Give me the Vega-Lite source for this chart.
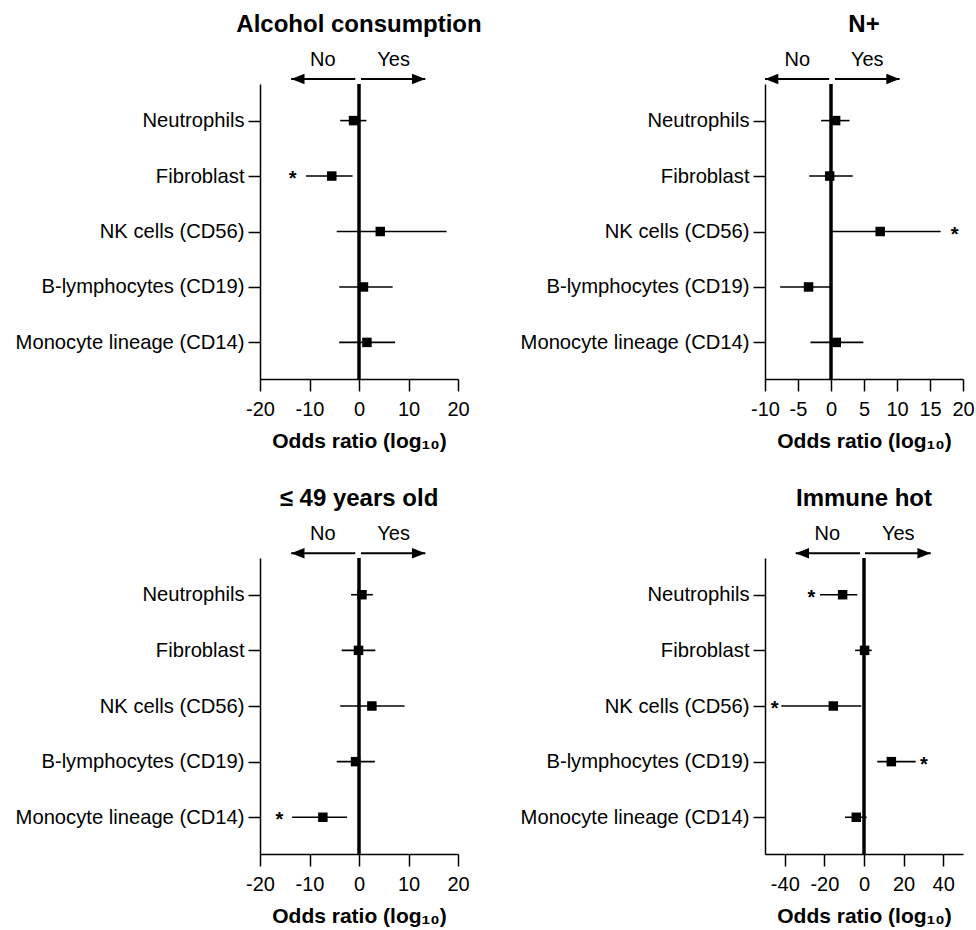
{
  "$schema": "https://vega.github.io/schema/vega-lite/v6.json",
  "padding": {"left": 15, "top": 13, "right": 5, "bottom": 5},
  "background": "white",
  "datasets": {
    "estimates": [
      {"panel": "alcohol", "cell": "Neutrophils", "or": -1.1, "lo": -3.8, "hi": 1.5, "star": null},
      {"panel": "alcohol", "cell": "Fibroblast", "or": -5.5, "lo": -10.7, "hi": -1.3, "star": -13.4},
      {"panel": "alcohol", "cell": "NK cells (CD56)", "or": 4.3, "lo": -4.5, "hi": 17.7, "star": null},
      {"panel": "alcohol", "cell": "B-lymphocytes (CD19)", "or": 0.9, "lo": -4.0, "hi": 6.8, "star": null},
      {"panel": "alcohol", "cell": "Monocyte lineage (CD14)", "or": 1.6, "lo": -4.0, "hi": 7.3, "star": null},
      {"panel": "nplus", "cell": "Neutrophils", "or": 0.7, "lo": -1.5, "hi": 2.8, "star": null},
      {"panel": "nplus", "cell": "Fibroblast", "or": -0.2, "lo": -3.3, "hi": 3.3, "star": null},
      {"panel": "nplus", "cell": "NK cells (CD56)", "or": 7.45, "lo": 0.15, "hi": 16.6, "star": 18.75},
      {"panel": "nplus", "cell": "B-lymphocytes (CD19)", "or": -3.4, "lo": -7.7, "hi": -0.15, "star": null},
      {"panel": "nplus", "cell": "Monocyte lineage (CD14)", "or": 0.8, "lo": -3.1, "hi": 4.9, "star": null},
      {"panel": "age49", "cell": "Neutrophils", "or": 0.6, "lo": -1.6, "hi": 2.8, "star": null},
      {"panel": "age49", "cell": "Fibroblast", "or": -0.1, "lo": -3.5, "hi": 3.3, "star": null},
      {"panel": "age49", "cell": "NK cells (CD56)", "or": 2.6, "lo": -3.8, "hi": 9.2, "star": null},
      {"panel": "age49", "cell": "B-lymphocytes (CD19)", "or": -0.7, "lo": -4.5, "hi": 3.2, "star": null},
      {"panel": "age49", "cell": "Monocyte lineage (CD14)", "or": -7.3, "lo": -13.5, "hi": -2.4, "star": -16.1},
      {"panel": "immune", "cell": "Neutrophils", "or": -10.8, "lo": -22.2, "hi": -3.4, "star": -26.6},
      {"panel": "immune", "cell": "Fibroblast", "or": 0.3, "lo": -4.5, "hi": 3.9, "star": null},
      {"panel": "immune", "cell": "NK cells (CD56)", "or": -15.5, "lo": -41.8, "hi": -1.4, "star": -45.1},
      {"panel": "immune", "cell": "B-lymphocytes (CD19)", "or": 13.8, "lo": 6.7, "hi": 26.1, "star": 30.3},
      {"panel": "immune", "cell": "Monocyte lineage (CD14)", "or": -3.9, "lo": -9.6, "hi": 1.3, "star": null}
    ],
    "arrows": [
      {"panel": "alcohol", "side": "No", "tip": -13.7, "inner": -0.75, "label_x": -7.3},
      {"panel": "alcohol", "side": "Yes", "tip": 13.4, "inner": 0.4, "label_x": 7.0},
      {"panel": "nplus", "side": "No", "tip": -10.0, "inner": -0.27, "label_x": -5.1},
      {"panel": "nplus", "side": "Yes", "tip": 10.4, "inner": 0.6, "label_x": 5.5},
      {"panel": "age49", "side": "No", "tip": -13.7, "inner": -0.75, "label_x": -7.3},
      {"panel": "age49", "side": "Yes", "tip": 13.4, "inner": 0.4, "label_x": 7.0},
      {"panel": "immune", "side": "No", "tip": -34.5, "inner": -2.0, "label_x": -18.5},
      {"panel": "immune", "side": "Yes", "tip": 33.7, "inner": 0.5, "label_x": 17.3}
    ],
    "zero": [{"value": 0}]
  },
  "columns": 2,
  "spacing": {"row": 35, "column": 38},
  "concat": [
    {
      "width": 198, "height": 295,
      "title": {"text": "Alcohol consumption"},
      "layer": [
        {
          "data": {"name": "estimates"},
          "transform": [{"filter": "datum.panel === 'alcohol'"}],
          "layer": [
            {"mark": {"type": "rule", "color": "black", "strokeWidth": 1.6},
             "encoding": {
               "x": {"field": "lo", "type": "quantitative", "scale": {"domain": [-20, 20], "nice": false, "zero": false}, "axis": {"values": [-20, -10, 0, 10, 20]}, "title": "Odds ratio (log₁₀)"},
               "x2": {"field": "hi"},
               "y": {"field": "cell", "type": "nominal", "scale": {"type": "point", "padding": 0.66, "domain": ["Neutrophils", "Fibroblast", "NK cells (CD56)", "B-lymphocytes (CD19)", "Monocyte lineage (CD14)"]}, "title": null}
             }},
            {"mark": {"type": "point", "shape": "square", "filled": true, "color": "black", "opacity": 1, "size": 90, "strokeWidth": 0},
             "encoding": {"x": {"field": "or", "type": "quantitative", "axis": {"values": [-20, -10, 0, 10, 20]}, "title": "Odds ratio (log₁₀)"}, "y": {"field": "cell", "type": "nominal", "title": null}}},
            {"transform": [{"filter": "datum.star != null"}],
             "mark": {"type": "text", "text": "*", "fontSize": 20, "fontWeight": "bold", "color": "black", "dy": 3},
             "encoding": {"x": {"field": "star", "type": "quantitative", "axis": {"values": [-20, -10, 0, 10, 20]}, "title": "Odds ratio (log₁₀)"}, "y": {"field": "cell", "type": "nominal", "title": null}}}
          ]
        },
        {"data": {"name": "zero"}, "mark": {"type": "rule", "color": "black", "strokeWidth": 3.5},
         "encoding": {"x": {"field": "value", "type": "quantitative", "axis": {"values": [-20, -10, 0, 10, 20]}, "title": "Odds ratio (log₁₀)"}}},
        {
          "data": {"name": "arrows"},
          "transform": [{"filter": "datum.panel === 'alcohol'"}],
          "layer": [
            {"mark": {"type": "rule", "color": "black", "strokeWidth": 2, "clip": false},
             "encoding": {"x": {"field": "tip", "type": "quantitative", "axis": {"values": [-20, -10, 0, 10, 20]}, "title": "Odds ratio (log₁₀)"}, "x2": {"field": "inner"}, "y": {"datum": 101.7, "type": "quantitative", "scale": {"domain": [0, 100]}, "axis": null}}},
            {"mark": {"type": "point", "filled": true, "color": "black", "opacity": 1, "size": 177, "strokeWidth": 0, "clip": false},
             "encoding": {"x": {"field": "tip", "type": "quantitative", "axis": {"values": [-20, -10, 0, 10, 20]}, "title": "Odds ratio (log₁₀)"}, "y": {"datum": 101.7, "type": "quantitative", "scale": {"domain": [0, 100]}, "axis": null},
               "shape": {"field": "side", "type": "nominal", "scale": {"domain": ["No", "Yes"], "range": ["M0,0L2,-0.8L2,0.8Z", "M0,0L-2,-0.8L-2,0.8Z"]}, "legend": null}}},
            {"mark": {"type": "text", "fontSize": 20, "color": "black", "clip": false, "baseline": "alphabetic"},
             "encoding": {"x": {"field": "label_x", "type": "quantitative", "axis": {"values": [-20, -10, 0, 10, 20]}, "title": "Odds ratio (log₁₀)"}, "y": {"datum": 106.1, "type": "quantitative", "scale": {"domain": [0, 100]}, "axis": null}, "text": {"field": "side"}}}
          ]
        }
      ],
      "resolve": {"scale": {"y": "independent"}}
    },
    {
      "width": 198, "height": 295,
      "title": {"text": "N+"},
      "layer": [
        {
          "data": {"name": "estimates"},
          "transform": [{"filter": "datum.panel === 'nplus'"}],
          "layer": [
            {"mark": {"type": "rule", "color": "black", "strokeWidth": 1.6},
             "encoding": {
               "x": {"field": "lo", "type": "quantitative", "scale": {"domain": [-10, 20], "nice": false, "zero": false}, "axis": {"values": [-10, -5, 0, 5, 10, 15, 20]}, "title": "Odds ratio (log₁₀)"},
               "x2": {"field": "hi"},
               "y": {"field": "cell", "type": "nominal", "scale": {"type": "point", "padding": 0.66, "domain": ["Neutrophils", "Fibroblast", "NK cells (CD56)", "B-lymphocytes (CD19)", "Monocyte lineage (CD14)"]}, "title": null}
             }},
            {"mark": {"type": "point", "shape": "square", "filled": true, "color": "black", "opacity": 1, "size": 90, "strokeWidth": 0},
             "encoding": {"x": {"field": "or", "type": "quantitative", "axis": {"values": [-10, -5, 0, 5, 10, 15, 20]}, "title": "Odds ratio (log₁₀)"}, "y": {"field": "cell", "type": "nominal", "title": null}}},
            {"transform": [{"filter": "datum.star != null"}],
             "mark": {"type": "text", "text": "*", "fontSize": 20, "fontWeight": "bold", "color": "black", "dy": 3},
             "encoding": {"x": {"field": "star", "type": "quantitative", "axis": {"values": [-10, -5, 0, 5, 10, 15, 20]}, "title": "Odds ratio (log₁₀)"}, "y": {"field": "cell", "type": "nominal", "title": null}}}
          ]
        },
        {"data": {"name": "zero"}, "mark": {"type": "rule", "color": "black", "strokeWidth": 3.5},
         "encoding": {"x": {"field": "value", "type": "quantitative", "axis": {"values": [-10, -5, 0, 5, 10, 15, 20]}, "title": "Odds ratio (log₁₀)"}}},
        {
          "data": {"name": "arrows"},
          "transform": [{"filter": "datum.panel === 'nplus'"}],
          "layer": [
            {"mark": {"type": "rule", "color": "black", "strokeWidth": 2, "clip": false},
             "encoding": {"x": {"field": "tip", "type": "quantitative", "axis": {"values": [-10, -5, 0, 5, 10, 15, 20]}, "title": "Odds ratio (log₁₀)"}, "x2": {"field": "inner"}, "y": {"datum": 101.7, "type": "quantitative", "scale": {"domain": [0, 100]}, "axis": null}}},
            {"mark": {"type": "point", "filled": true, "color": "black", "opacity": 1, "size": 177, "strokeWidth": 0, "clip": false},
             "encoding": {"x": {"field": "tip", "type": "quantitative", "axis": {"values": [-10, -5, 0, 5, 10, 15, 20]}, "title": "Odds ratio (log₁₀)"}, "y": {"datum": 101.7, "type": "quantitative", "scale": {"domain": [0, 100]}, "axis": null},
               "shape": {"field": "side", "type": "nominal", "scale": {"domain": ["No", "Yes"], "range": ["M0,0L2,-0.8L2,0.8Z", "M0,0L-2,-0.8L-2,0.8Z"]}, "legend": null}}},
            {"mark": {"type": "text", "fontSize": 20, "color": "black", "clip": false, "baseline": "alphabetic"},
             "encoding": {"x": {"field": "label_x", "type": "quantitative", "axis": {"values": [-10, -5, 0, 5, 10, 15, 20]}, "title": "Odds ratio (log₁₀)"}, "y": {"datum": 106.1, "type": "quantitative", "scale": {"domain": [0, 100]}, "axis": null}, "text": {"field": "side"}}}
          ]
        }
      ],
      "resolve": {"scale": {"y": "independent"}}
    },
    {
      "width": 198, "height": 296,
      "title": {"text": "≤ 49 years old"},
      "layer": [
        {
          "data": {"name": "estimates"},
          "transform": [{"filter": "datum.panel === 'age49'"}],
          "layer": [
            {"mark": {"type": "rule", "color": "black", "strokeWidth": 1.6},
             "encoding": {
               "x": {"field": "lo", "type": "quantitative", "scale": {"domain": [-20, 20], "nice": false, "zero": false}, "axis": {"values": [-20, -10, 0, 10, 20]}, "title": "Odds ratio (log₁₀)"},
               "x2": {"field": "hi"},
               "y": {"field": "cell", "type": "nominal", "scale": {"type": "point", "padding": 0.66, "domain": ["Neutrophils", "Fibroblast", "NK cells (CD56)", "B-lymphocytes (CD19)", "Monocyte lineage (CD14)"]}, "title": null}
             }},
            {"mark": {"type": "point", "shape": "square", "filled": true, "color": "black", "opacity": 1, "size": 90, "strokeWidth": 0},
             "encoding": {"x": {"field": "or", "type": "quantitative", "axis": {"values": [-20, -10, 0, 10, 20]}, "title": "Odds ratio (log₁₀)"}, "y": {"field": "cell", "type": "nominal", "title": null}}},
            {"transform": [{"filter": "datum.star != null"}],
             "mark": {"type": "text", "text": "*", "fontSize": 20, "fontWeight": "bold", "color": "black", "dy": 3},
             "encoding": {"x": {"field": "star", "type": "quantitative", "axis": {"values": [-20, -10, 0, 10, 20]}, "title": "Odds ratio (log₁₀)"}, "y": {"field": "cell", "type": "nominal", "title": null}}}
          ]
        },
        {"data": {"name": "zero"}, "mark": {"type": "rule", "color": "black", "strokeWidth": 3.5},
         "encoding": {"x": {"field": "value", "type": "quantitative", "axis": {"values": [-20, -10, 0, 10, 20]}, "title": "Odds ratio (log₁₀)"}}},
        {
          "data": {"name": "arrows"},
          "transform": [{"filter": "datum.panel === 'age49'"}],
          "layer": [
            {"mark": {"type": "rule", "color": "black", "strokeWidth": 2, "clip": false},
             "encoding": {"x": {"field": "tip", "type": "quantitative", "axis": {"values": [-20, -10, 0, 10, 20]}, "title": "Odds ratio (log₁₀)"}, "x2": {"field": "inner"}, "y": {"datum": 101.6, "type": "quantitative", "scale": {"domain": [0, 100]}, "axis": null}}},
            {"mark": {"type": "point", "filled": true, "color": "black", "opacity": 1, "size": 177, "strokeWidth": 0, "clip": false},
             "encoding": {"x": {"field": "tip", "type": "quantitative", "axis": {"values": [-20, -10, 0, 10, 20]}, "title": "Odds ratio (log₁₀)"}, "y": {"datum": 101.6, "type": "quantitative", "scale": {"domain": [0, 100]}, "axis": null},
               "shape": {"field": "side", "type": "nominal", "scale": {"domain": ["No", "Yes"], "range": ["M0,0L2,-0.8L2,0.8Z", "M0,0L-2,-0.8L-2,0.8Z"]}, "legend": null}}},
            {"mark": {"type": "text", "fontSize": 20, "color": "black", "clip": false, "baseline": "alphabetic"},
             "encoding": {"x": {"field": "label_x", "type": "quantitative", "axis": {"values": [-20, -10, 0, 10, 20]}, "title": "Odds ratio (log₁₀)"}, "y": {"datum": 106.1, "type": "quantitative", "scale": {"domain": [0, 100]}, "axis": null}, "text": {"field": "side"}}}
          ]
        }
      ],
      "resolve": {"scale": {"y": "independent"}}
    },
    {
      "width": 198, "height": 296,
      "title": {"text": "Immune hot"},
      "layer": [
        {
          "data": {"name": "estimates"},
          "transform": [{"filter": "datum.panel === 'immune'"}],
          "layer": [
            {"mark": {"type": "rule", "color": "black", "strokeWidth": 1.6},
             "encoding": {
               "x": {"field": "lo", "type": "quantitative", "scale": {"domain": [-50, 50], "nice": false, "zero": false}, "axis": {"values": [-40, -20, 0, 20, 40]}, "title": "Odds ratio (log₁₀)"},
               "x2": {"field": "hi"},
               "y": {"field": "cell", "type": "nominal", "scale": {"type": "point", "padding": 0.66, "domain": ["Neutrophils", "Fibroblast", "NK cells (CD56)", "B-lymphocytes (CD19)", "Monocyte lineage (CD14)"]}, "title": null}
             }},
            {"mark": {"type": "point", "shape": "square", "filled": true, "color": "black", "opacity": 1, "size": 90, "strokeWidth": 0},
             "encoding": {"x": {"field": "or", "type": "quantitative", "axis": {"values": [-40, -20, 0, 20, 40]}, "title": "Odds ratio (log₁₀)"}, "y": {"field": "cell", "type": "nominal", "title": null}}},
            {"transform": [{"filter": "datum.star != null"}],
             "mark": {"type": "text", "text": "*", "fontSize": 20, "fontWeight": "bold", "color": "black", "dy": 3},
             "encoding": {"x": {"field": "star", "type": "quantitative", "axis": {"values": [-40, -20, 0, 20, 40]}, "title": "Odds ratio (log₁₀)"}, "y": {"field": "cell", "type": "nominal", "title": null}}}
          ]
        },
        {"data": {"name": "zero"}, "mark": {"type": "rule", "color": "black", "strokeWidth": 3.5},
         "encoding": {"x": {"field": "value", "type": "quantitative", "axis": {"values": [-40, -20, 0, 20, 40]}, "title": "Odds ratio (log₁₀)"}}},
        {
          "data": {"name": "arrows"},
          "transform": [{"filter": "datum.panel === 'immune'"}],
          "layer": [
            {"mark": {"type": "rule", "color": "black", "strokeWidth": 2, "clip": false},
             "encoding": {"x": {"field": "tip", "type": "quantitative", "axis": {"values": [-40, -20, 0, 20, 40]}, "title": "Odds ratio (log₁₀)"}, "x2": {"field": "inner"}, "y": {"datum": 101.6, "type": "quantitative", "scale": {"domain": [0, 100]}, "axis": null}}},
            {"mark": {"type": "point", "filled": true, "color": "black", "opacity": 1, "size": 177, "strokeWidth": 0, "clip": false},
             "encoding": {"x": {"field": "tip", "type": "quantitative", "axis": {"values": [-40, -20, 0, 20, 40]}, "title": "Odds ratio (log₁₀)"}, "y": {"datum": 101.6, "type": "quantitative", "scale": {"domain": [0, 100]}, "axis": null},
               "shape": {"field": "side", "type": "nominal", "scale": {"domain": ["No", "Yes"], "range": ["M0,0L2,-0.8L2,0.8Z", "M0,0L-2,-0.8L-2,0.8Z"]}, "legend": null}}},
            {"mark": {"type": "text", "fontSize": 20, "color": "black", "clip": false, "baseline": "alphabetic"},
             "encoding": {"x": {"field": "label_x", "type": "quantitative", "axis": {"values": [-40, -20, 0, 20, 40]}, "title": "Odds ratio (log₁₀)"}, "y": {"datum": 106.1, "type": "quantitative", "scale": {"domain": [0, 100]}, "axis": null}, "text": {"field": "side"}}}
          ]
        }
      ],
      "resolve": {"scale": {"y": "independent"}}
    }
  ],
  "config": {
    "view": {"stroke": null},
    "font": "Liberation Sans",
    "axis": {
      "domainColor": "black", "domainWidth": 1.5, "tickColor": "black", "tickWidth": 1.5, "tickSize": 12,
      "labelColor": "black", "labelFont": "Liberation Sans", "labelFontSize": 20, "grid": false,
      "titleColor": "black", "titleFont": "Liberation Sans", "titleFontSize": 21, "titleFontWeight": "bold",
      "labelOverlap": false, "labelLimit": 400
    },
    "axisY": {"labelPadding": 4, "labelFontSize": 20.2},
    "axisX": {"labelPadding": 8, "titlePadding": 11, "labelFlush": false, "labelExpr": "'' + datum.value"},
    "title": {"font": "Liberation Sans", "fontSize": 24, "fontWeight": "bold", "color": "black", "frame": "group", "anchor": "middle", "offset": 13}
  }
}
